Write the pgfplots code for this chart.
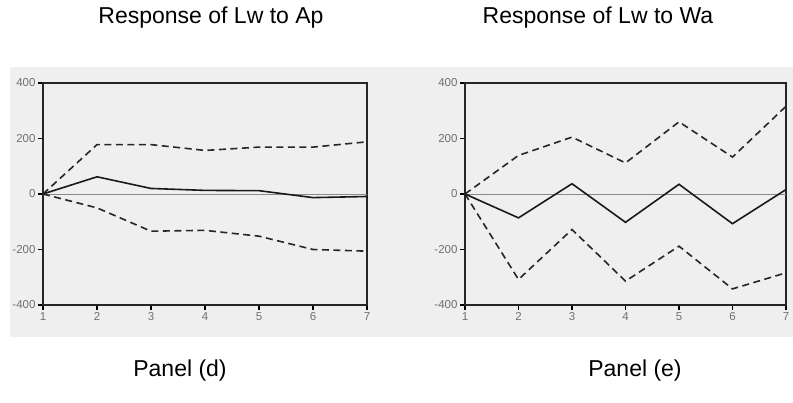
\documentclass[border=0pt]{standalone}
\usepackage{fontspec}
\setmainfont{Liberation Sans}
\usepackage{pgfplots}
\pgfplotsset{compat=1.18}

\definecolor{panelbg}{HTML}{EFEFEF}
\definecolor{ticktext}{HTML}{707070}
\definecolor{zeroline}{HTML}{8A8A8A}

\pgfplotsset{
  irf/.style={
    scale only axis,
    width=322pt, height=222pt,
    xmin=1, xmax=7, ymin=-400, ymax=400,
    xtick={1,...,7},
    ytick={-400,-200,0,200,400},
    xtick pos=left, ytick pos=left,
    tick align=outside,
    major tick length=5pt,
    tick style={black, line width=1.1pt},
    axis line style={line width=2pt, black!85},
    axis background/.style={fill=panelbg},
    tick label style={font=\fontsize{11.5}{11.5}\selectfont, text=ticktext},
    yticklabel style={xshift=1pt},
    xticklabel style={yshift=1pt},
    /pgf/number format/assume math mode=true,
    clip=false,
  },
  mid/.style={black!90, line width=1.6pt, no markers},
  band/.style={black!85, line width=1.6pt, dash pattern=on 7pt off 4.5pt, no markers},
  zero/.style={zeroline, line width=0.9pt, no markers, forget plot},
}

\begin{document}
\begin{tikzpicture}
\path[use as bounding box] (0pt,0pt) rectangle (793pt,402pt);
\fill[panelbg] (10pt,65pt) rectangle (793pt,335pt);

% Panel (d): response of Lw to Ap
\begin{axis}[irf, at={(43pt,97pt)}, anchor=south west, width=324pt]
\addplot[zero] coordinates {(1,0) (7,0)};
\addplot[band] coordinates {(1,0) (2,178) (3,178) (4,157) (5,169) (6,169) (7,188)};
\addplot[band] coordinates {(1,0) (2,-50) (3,-134) (4,-131) (5,-152) (6,-200) (7,-206)};
\addplot[mid] coordinates {(1,0) (2,62) (3,20) (4,13) (5,12) (6,-13) (7,-9)};
\end{axis}

% Panel (e): response of Lw to Wa
\begin{axis}[irf, at={(465pt,97pt)}, anchor=south west, width=321pt]
\addplot[zero] coordinates {(1,0) (7,0)};
\addplot[band] coordinates {(1,0) (2,139) (3,205) (4,112) (5,260) (6,133) (7,316)};
\addplot[band] coordinates {(1,0) (2,-308) (3,-128) (4,-314) (5,-188) (6,-342) (7,-284)};
\addplot[mid] coordinates {(1,0) (2,-86) (3,37) (4,-102) (5,35) (6,-107) (7,16)};
\end{axis}

\node[anchor=base, font=\fontsize{23}{23}\selectfont] at (211pt,378pt) {Response of Lw to Ap};
\node[anchor=base, font=\fontsize{23}{23}\selectfont] at (598pt,378pt) {Response of Lw to Wa};
\node[anchor=base, font=\fontsize{23}{23}\selectfont] at (180pt,26pt) {Panel (d)};
\node[anchor=base, font=\fontsize{23}{23}\selectfont] at (635pt,26pt) {Panel (e)};
\end{tikzpicture}
\end{document}
